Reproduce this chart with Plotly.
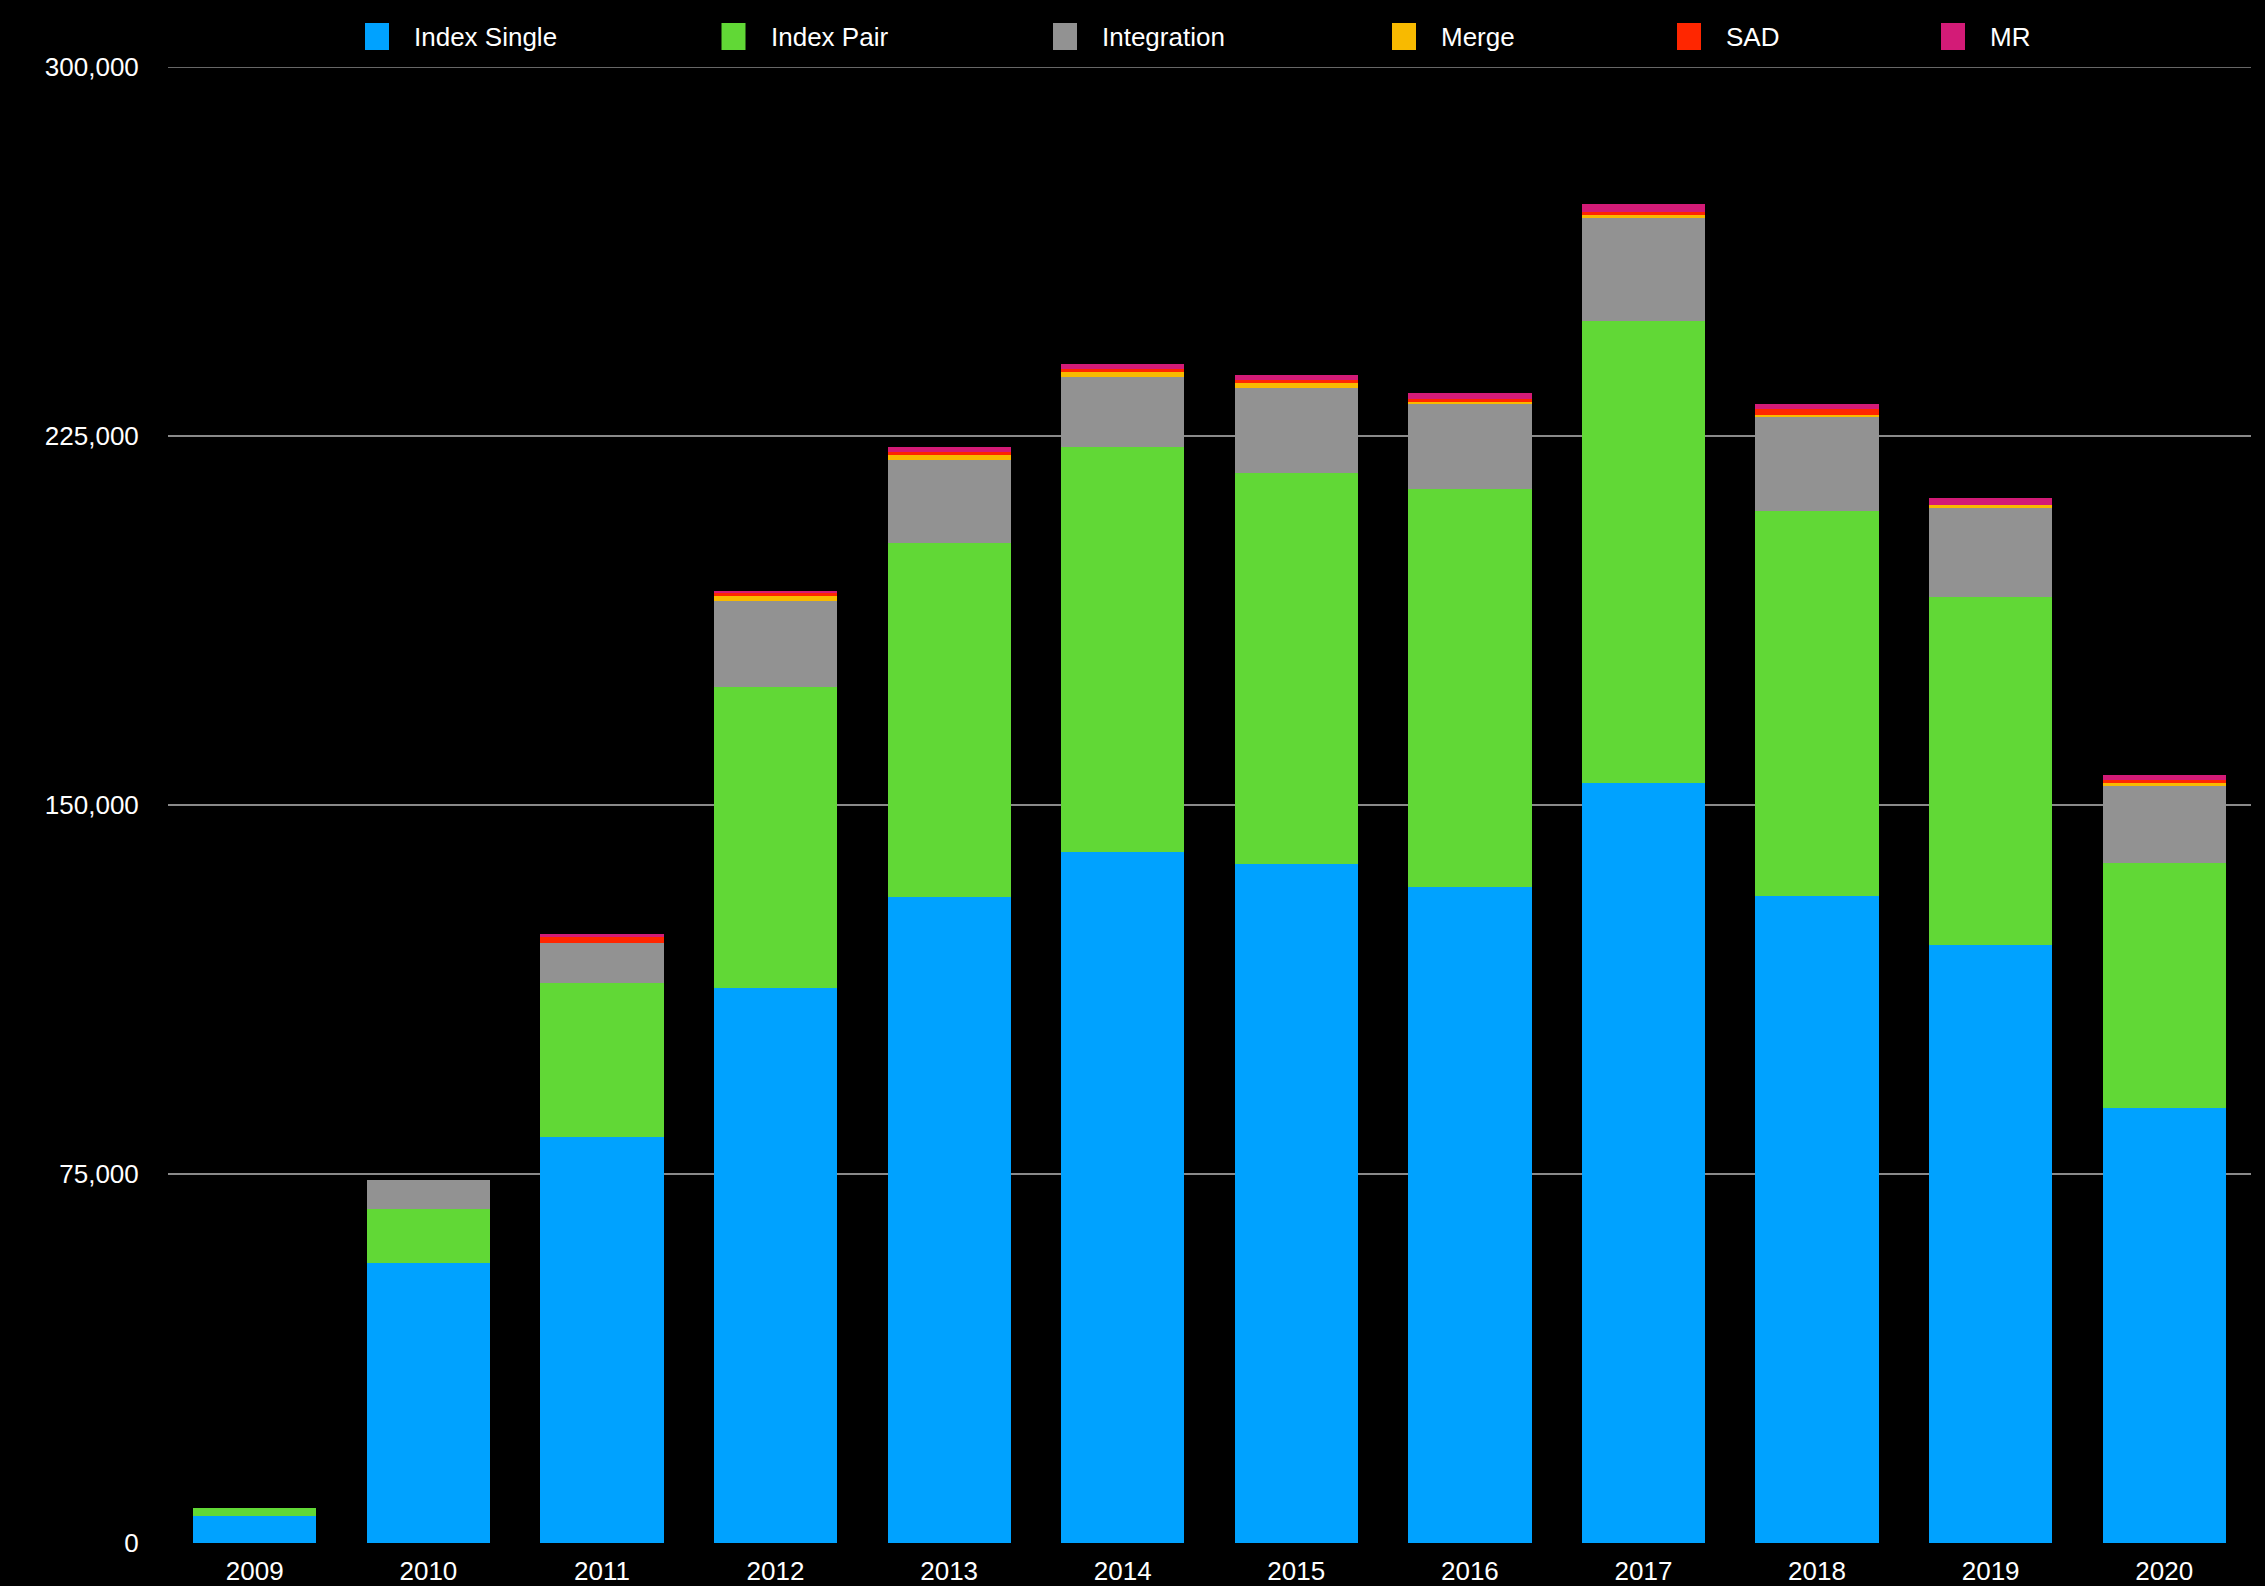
import plotly.graph_objects as go

years = ["2009", "2010", "2011", "2012", "2013", "2014", "2015", "2016", "2017", "2018", "2019", "2020"]

index_single = [5500, 56900, 82500, 112800, 131300, 140450, 138000, 133300, 154500, 131600, 121600, 88400]
index_pair = [1600, 10900, 31300, 61200, 71900, 82300, 79500, 80900, 93900, 78200, 70750, 49800]
integration = [0, 5950, 8150, 17500, 16950, 14250, 17300, 17300, 20950, 19100, 18000, 15850]
merge = [0, 0, 0, 1000, 1000, 1000, 1000, 600, 600, 400, 600, 400]
sad = [0, 0, 1200, 600, 600, 680, 600, 400, 600, 1200, 0, 600]
mr = [0, 0, 600, 400, 1000, 950, 1000, 1200, 1600, 1000, 1400, 1000]

series_names = ["Index Single", "Index Pair", "Integration", "Merge", "SAD", "MR"]
series_values = [index_single, index_pair, integration, merge, sad, mr]
series_colors = ["#00A2FF", "#61D836", "#929292", "#F8BA00", "#FF2600", "#D31B77"]

y_ticks = [0, 75000, 150000, 225000, 300000]

W, H = 2265, 1586
PL, PR, PT, PB = 168, 2251, 67, 1543
FONT = "Helvetica Neue, Liberation Sans, Arial, sans-serif"
GRID = "#8a8a8a"

fig = go.Figure()
for name, vals, col in zip(series_names, series_values, series_colors):
    fig.add_trace(go.Bar(x=years, y=vals, name=name, marker=dict(color=col, line=dict(width=0)),
                         showlegend=False))

# custom legend (large square swatches) in pixel layout positions
legend_left_px = [365, 721.5, 1053, 1392, 1677, 1941]
def px_to_paper_x(px):
    return (px - PL) / (PR - PL)
def px_to_paper_y(py):
    return (PB - py) / (PB - PT)

shapes = []
annotations = []
for name, col, lx in zip(series_names, series_colors, legend_left_px):
    shapes.append(dict(type="rect", xref="paper", yref="paper",
                       x0=px_to_paper_x(lx), x1=px_to_paper_x(lx + 24),
                       y0=px_to_paper_y(50), y1=px_to_paper_y(23),
                       fillcolor=col, line=dict(width=0), layer="above"))
    annotations.append(dict(xref="paper", yref="paper", x=px_to_paper_x(lx + 47), y=px_to_paper_y(37),
                            xanchor="left", yanchor="middle", text=name, showarrow=False,
                            font=dict(family=FONT, size=26, color="white")))

# top gridline at the edge of the range (plotly may clip it)
shapes.append(dict(type="line", xref="paper", yref="y", x0=0, x1=1, y0=y_ticks[-1], y1=y_ticks[-1],
                   line=dict(color=GRID, width=1.5), layer="below"))

fig.update_layout(
    width=W, height=H,
    margin=dict(l=PL, r=W - PR, t=PT, b=H - PB, pad=0, autoexpand=False),
    paper_bgcolor="black", plot_bgcolor="black",
    barmode="stack", bargap=0.29,
    font=dict(family=FONT, size=26, color="white"),
    shapes=shapes, annotations=annotations,
    showlegend=False,
)
fig.update_xaxes(type="category", showgrid=False, zeroline=False, showline=False, automargin=False,
                 ticks="outside", ticklen=5, tickcolor="rgba(0,0,0,0)",
                 tickfont=dict(family=FONT, size=26, color="white"))
fig.update_yaxes(range=[0, 300000], tickvals=y_ticks, ticktext=[f"{v:,}" for v in y_ticks],
                 showgrid=True, gridcolor=GRID, gridwidth=1.5, automargin=False,
                 zeroline=True, zerolinecolor="black", zerolinewidth=2, showline=False,
                 ticks="outside", ticklen=23, tickcolor="rgba(0,0,0,0)",
                 tickfont=dict(family=FONT, size=26, color="white"))

fig.write_html("out.html")
